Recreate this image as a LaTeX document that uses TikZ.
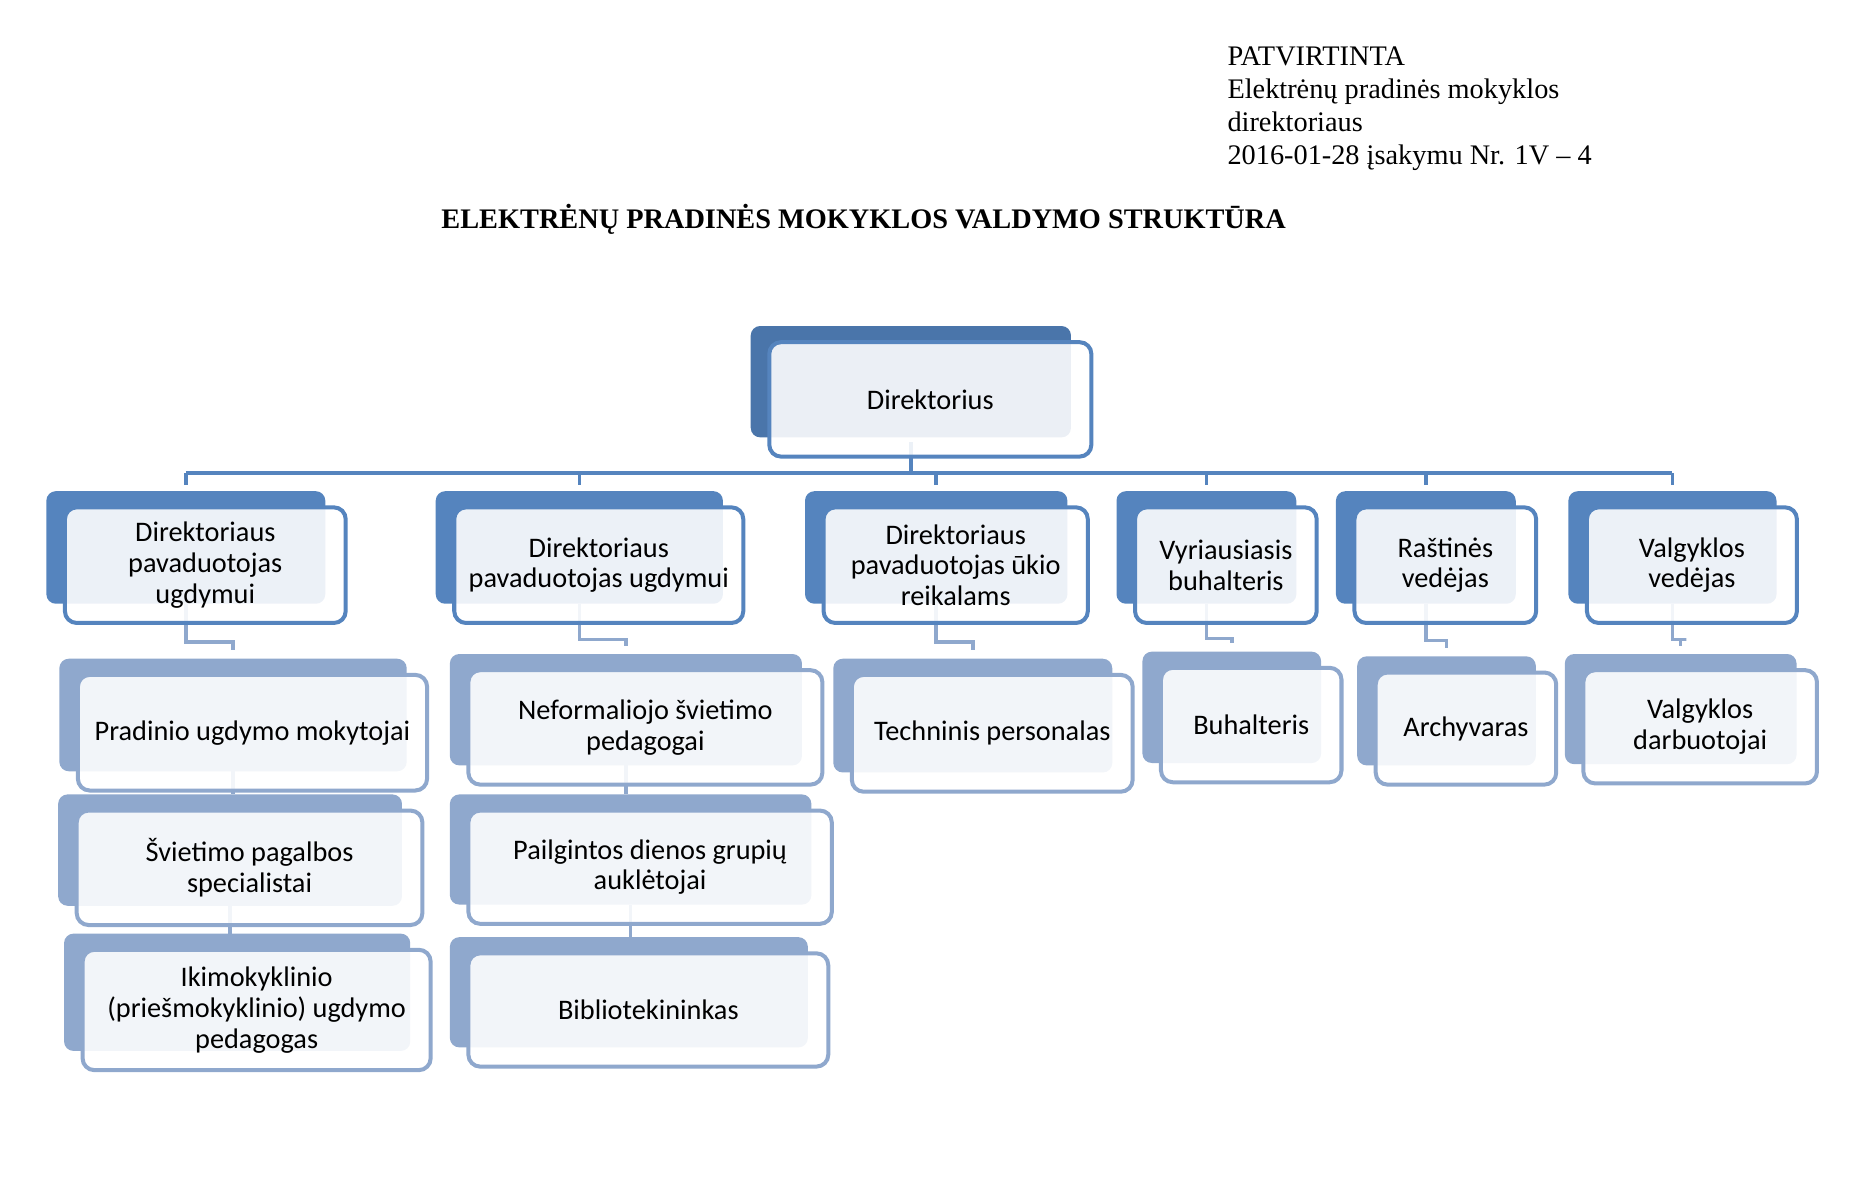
\documentclass[tikz,border=0pt]{standalone}
\usepackage{fontspec}
\setmainfont{Liberation Serif}
\newfontfamily\boxfont{Carlito}
\usetikzlibrary{positioning,calc}
\definecolor{dirblue}{HTML}{4A75AA}
\definecolor{midblue}{HTML}{5584BE}
\definecolor{paleblue}{HTML}{8FA8CD}
\pgfdeclarelayer{backboxes}
\pgfdeclarelayer{links}
\pgfsetlayers{backboxes,links,main}

\begin{document}
\begin{tikzpicture}[x=0.5pt, y=-0.5pt,
  card/.style={draw=#1, line width=1.7pt, rounded corners=5pt, fill=white, fill opacity=0.89,
    text opacity=1, inner sep=0pt, align=center, font=\boxfont\fontsize{12}{13}\selectfont},
  trunk/.style={midblue, line width=1.5pt},
  twig/.style={paleblue, line width=1.5pt}]
  \useasboundingbox (0,0) rectangle (1568,1008);

  \node[anchor=north west, align=left, inner sep=0pt, font=\fontsize{12}{14}\selectfont] (approval) at (1040,39)
    {PATVIRTINTA\\Elektrėnų pradinės mokyklos\\direktoriaus\\2016-01-28 įsakymu Nr. 1V – 4};
  \node[font=\bfseries\fontsize{12}{14}\selectfont] (title) at (732,186)
    {ELEKTRĖNŲ PRADINĖS MOKYKLOS VALDYMO STRUKTŪRA};

  \node[card=midblue, minimum width=136.5pt, minimum height=48.5pt] (dir) at (788.5,338.5) {Direktorius};

  \node[card=midblue, minimum width=119pt, minimum height=49pt] (r1a) at (174,479) {Direktoriaus\\pavaduotojas\\ugdymui};
  \node[card=midblue, minimum width=122.5pt, minimum height=49pt] (r1b) at (507.5,479) {Direktoriaus\\pavaduotojas ugdymui};
  \node[card=midblue, minimum width=112pt, minimum height=49pt] (r1c) at (810,479) {Direktoriaus\\pavaduotojas ūkio\\reikalams};
  \node[card=midblue, minimum width=77pt, minimum height=49pt] (r1d) at (1039,479) {Vyriausiasis\\buhalteris};
  \node[card=midblue, minimum width=77pt, minimum height=49pt] (r1e) at (1225,479) {Raštinės\\vedėjas};
  \node[card=midblue, minimum width=89pt, minimum height=49pt] (r1f) at (1434,479) {Valgyklos\\vedėjas};

  \node[card=paleblue, minimum width=148pt, minimum height=49pt] (p1) at (214,621) {Pradinio ugdymo mokytojai};
  \node[card=paleblue, minimum width=146.5pt, minimum height=48.5pt] (p2) at (211.5,735.5) {Švietimo pagalbos\\specialistai};
  \node[card=paleblue, minimum width=147.5pt, minimum height=51pt] (p3) at (217.5,856) {Ikimokyklinio\\(priešmokyklinio) ugdymo\\pedagogas};
  \node[card=paleblue, minimum width=150pt, minimum height=48.5pt] (n1) at (547,616.5) {Neformaliojo švietimo\\pedagogai};
  \node[card=paleblue, minimum width=154pt, minimum height=48pt] (n2) at (551,735) {Pailgintos dienos grupių\\auklėtojai};
  \node[card=paleblue, minimum width=152.5pt, minimum height=48pt] (n3) at (549.5,856) {Bibliotekininkas};
  \node[card=paleblue, minimum width=119pt, minimum height=49.5pt] (t1) at (841,621.5) {Techninis personalas};
  \node[card=paleblue, minimum width=76.5pt, minimum height=48.5pt] (b1) at (1060.5,614.5) {Buhalteris};
  \node[card=paleblue, minimum width=76.5pt, minimum height=47.5pt] (a1) at (1242.5,617.5) {Archyvaras};
  \node[card=paleblue, minimum width=99pt, minimum height=48pt] (v1) at (1441,616) {Valgyklos\\darbuotojai};

  \foreach \n in {dir,r1a,r1b,r1c,r1d,r1e,r1f,p1,p2,p3,n1,n2,n3,t1,b1,a1,v1}
  {
    \coordinate (\n-top) at ([shift={(-8.25pt,6pt)}]\n.north);
    \coordinate (\n-bot) at ([shift={(-8.25pt,9pt)}]\n.south);
  }

  \begin{pgfonlayer}{backboxes}
    \fill[dirblue, rounded corners=4pt] ([shift={(-7pt,6pt)}]dir.north west) rectangle ([shift={(-9.5pt,9pt)}]dir.south east);
    \foreach \n in {r1a,r1b,r1c,r1d,r1e,r1f}
      \fill[midblue, rounded corners=4pt] ([shift={(-7pt,6pt)}]\n.north west) rectangle ([shift={(-9.5pt,9pt)}]\n.south east);
    \foreach \n in {p1,p2,p3,n1,n2,n3,t1,b1,a1,v1}
      \fill[paleblue, rounded corners=4pt] ([shift={(-7pt,6pt)}]\n.north west) rectangle ([shift={(-9.5pt,9pt)}]\n.south east);
  \end{pgfonlayer}

  \begin{pgfonlayer}{links}
    \coordinate (bus) at (0,401);
    \draw[trunk, shorten <=2pt] (dir-bot) -- (dir-bot |- bus);
    \draw[trunk] (bus -| r1a-top) -- (bus -| r1f-top);
    \foreach \n in {r1a,r1b,r1c,r1d,r1e,r1f}
      \draw[trunk, shorten >=2.5pt] (bus -| \n-top) -- (\n-top);
    \foreach \p/\c in {r1a/p1,r1b/n1,r1c/t1,r1d/b1,r1e/a1,r1f/v1}
      \draw[twig, shorten >=3.5pt] (\p-bot) |- ($(\p.south)!.5!(\c-top)$) -| (\c-top);
    \foreach \a/\b in {p1/p2,p2/p3,n1/n2,n2/n3}
      \draw[twig] (\a-bot) -- (\a-bot |- \b-top);
  \end{pgfonlayer}
\end{tikzpicture}
\end{document}
